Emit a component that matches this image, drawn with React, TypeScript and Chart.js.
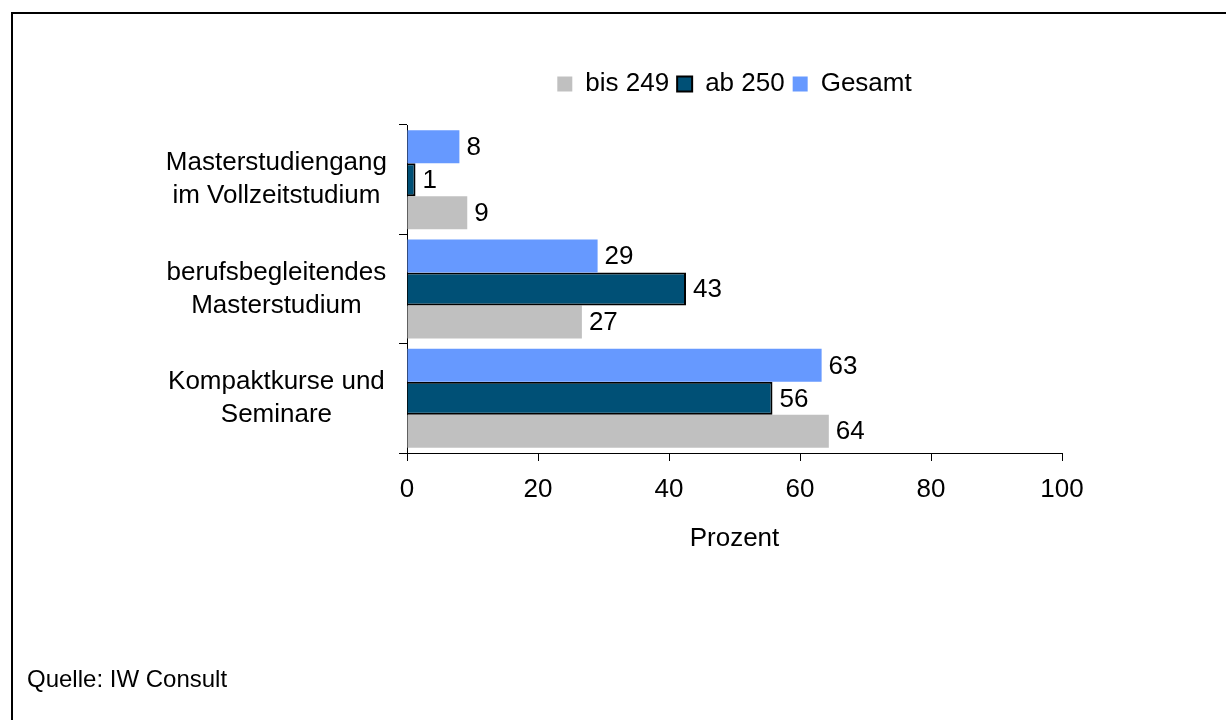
import React, { useEffect, useRef } from "react";
import { Chart, registerables } from "chart.js";

Chart.register(...registerables);

const categories: string[][] = [
  ["Masterstudiengang", "im Vollzeitstudium"],
  ["berufsbegleitendes", "Masterstudium"],
  ["Kompaktkurse und", "Seminare"],
];
const gesamt = [8.0, 29.1, 63.3];
const ab250 = [1.3, 42.6, 55.8];
const bis249 = [9.2, 26.7, 64.4];
const seriesNames = ["Gesamt", "ab 250", "bis 249"];
const xMin = 0;
const xMax = 100;
const xStep = 20;
const axisTitle = "Prozent";
const sourceNote = "Quelle: IW Consult";

const FONT = "'Liberation Sans', Arial, Helvetica, sans-serif";

export default function App() {
  const ref = useRef<HTMLCanvasElement | null>(null);

  useEffect(() => {
    if (!ref.current) return;

    const valueLabels = {
      id: "valueLabels",
      afterDatasetsDraw(chart: any) {
        const ctx = chart.ctx;
        ctx.save();
        ctx.font = `26px ${FONT}`;
        ctx.fillStyle = "#000";
        ctx.textAlign = "left";
        ctx.textBaseline = "middle";
        chart.data.datasets.forEach((ds: any, i: number) => {
          const meta = chart.getDatasetMeta(i);
          meta.data.forEach((bar: any, j: number) => {
            ctx.fillText(String(Math.round(ds.data[j])), bar.x + 7, bar.y + 1);
          });
        });
        ctx.restore();
      },
    };

    const sourcePlugin = {
      id: "sourceNote",
      afterDraw(chart: any) {
        const ctx = chart.ctx;
        ctx.save();
        ctx.font = `24px ${FONT}`;
        ctx.fillStyle = "#000";
        ctx.textAlign = "left";
        ctx.textBaseline = "alphabetic";
        ctx.fillText(sourceNote, 27, 687);
        ctx.restore();
      },
    };

    const legendGap = {
      id: "legendGap",
      afterInit(chart: any) {
        const lg = chart.legend;
        if (lg && !lg.__patched) {
          const f = lg.fit.bind(lg);
          lg.fit = function () {
            f();
            this.height += 18;
          };
          lg.__patched = true;
        }
      },
    };

    const chart = new Chart(ref.current, {
      type: "bar",
      data: {
        labels: categories,
        datasets: [
          {
            label: seriesNames[0],
            data: gesamt,
            backgroundColor: "#6699FF",
            borderWidth: 0,
          },
          {
            label: seriesNames[1],
            data: ab250,
            backgroundColor: "#005076",
            borderColor: "#000000",
            borderWidth: 2,
          },
          {
            label: seriesNames[2],
            data: bis249,
            backgroundColor: "#C0C0C0",
            borderWidth: 0,
          },
        ],
      },
      options: {
        indexAxis: "y",
        responsive: false,
        animation: false,
        devicePixelRatio: 1,
        datasets: {
          bar: { categoryPercentage: 0.905, barPercentage: 1 },
        },
        layout: { padding: { top: 63, left: 0, right: 164, bottom: 162 } },
        plugins: {
          legend: {
            position: "top",
            fullSize: false,
            reverse: true,
            labels: {
              font: { family: FONT, size: 26 },
              color: "#000",
              boxWidth: 15,
              boxHeight: 15,
              padding: 8,
            },
          },
          tooltip: { enabled: false },
        },
        scales: {
          x: {
            type: "linear",
            min: xMin,
            max: xMax,
            ticks: {
              stepSize: xStep,
              font: { family: FONT, size: 26 },
              color: "#000",
              padding: 13,
            },
            grid: {
              drawOnChartArea: false,
              drawTicks: true,
              tickLength: 8,
              color: "#000",
            },
            border: { display: true, color: "#000", width: 1 },
            title: {
              display: true,
              text: axisTitle,
              font: { family: FONT, size: 26 },
              color: "#000",
              padding: { top: 17, bottom: 4 },
            },
            afterFit(scale: any) {
              scale.height = 105;
            },
          },
          y: {
            type: "category",
            ticks: {
              font: { family: FONT, size: 26, lineHeight: 1.27 },
              color: "#000",
              crossAlign: "center",
              padding: 12,
            },
            grid: {
              drawOnChartArea: false,
              drawTicks: true,
              tickLength: 8,
              color: "#000",
              offset: true,
            },
            border: { display: true, color: "#000", width: 1 },
            afterFit(scale: any) {
              scale.width = 407;
            },
          },
        },
      } as any,
      plugins: [valueLabels, sourcePlugin, legendGap],
    });

    return () => chart.destroy();
  }, []);

  return (
    <div style={{ position: "fixed", left: 0, top: 0, width: 1226, height: 720, overflow: "hidden", background: "#fff" }}>
      <div
        style={{
          position: "absolute",
          left: 11,
          top: 12,
          width: 1300,
          height: 800,
          border: "2px solid #000",
          boxSizing: "border-box",
        }}
      />
      <canvas
        ref={ref}
        width={1226}
        height={720}
        style={{ position: "absolute", left: 0, top: 0, width: 1226, height: 720 }}
      />
    </div>
  );
}
